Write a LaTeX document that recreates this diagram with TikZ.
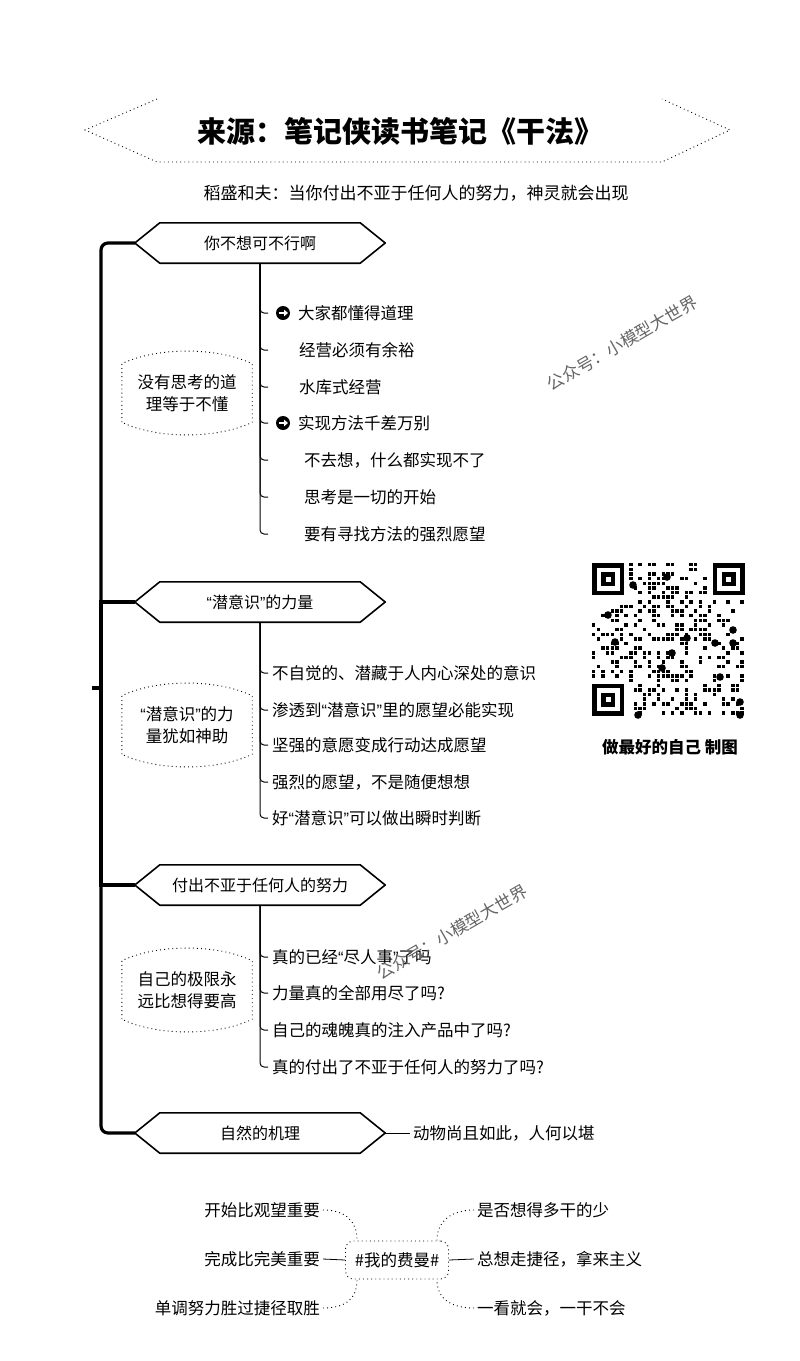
\documentclass[tikz,border=0pt]{standalone}
\usepackage{fontspec}
\setmainfont{Noto Sans CJK SC}
\newfontfamily\latin{Liberation Sans}
\usetikzlibrary{arrows.meta}

\newcommand{\fsz}[2]{\fontsize{#1}{#2}\selectfont}
\newcommand{\oq}{{\latin “}}
\newcommand{\cq}{{\latin ”}}

\tikzset{
  hexbox/.style={minimum width=250pt,minimum height=40pt,inner sep=0pt,font=\fsz{16}{20}},
  hexline/.style={line width=1.6pt,line join=round},
  sumbox/.style={minimum width=130pt,minimum height=58pt,inner sep=0pt,align=center,font=\fsz{16.5}{21.5}},
  sumline/.style={line width=0.9pt,dash pattern=on 0.9pt off 3.2pt},
  leaf/.style={anchor=west,inner xsep=0pt,inner ysep=2pt,font=\fsz{16.5}{20}},
  stem/.style={line width=3.2pt},
  twig/.style={line width=1pt,rounded corners=4pt},
  bul/.style={circle,fill=black,inner sep=0pt,minimum size=14pt},
  bularr/.style={white,line width=1.8pt,-{Triangle[length=4pt,width=6.5pt]}},
  wmark/.style={font=\fsz{17}{20},text=black!60,rotate=30},
}

\begin{document}
\begin{tikzpicture}[x=1pt,y=-1pt]
\useasboundingbox (0,0) rectangle (800,1361);
\fill[white] (0,0) rectangle (800,1361);

% title
\draw[sumline] (157,99) -- (85,130) -- (157,162) -- (662,162) -- (730,130) -- (662,99);
\node[font=\fsz{29}{34}\bfseries] (title) at (400,131) {来源：笔记侠读书笔记《干法》};
\node[font=\fsz{17}{20}] (sub) at (416,193) {稻盛和夫：当你付出不亚于任何人的努力，神灵就会出现};

% main branches
\node[hexbox] (h1) at (260,243) {你不想可不行啊};
\node[hexbox] (h2) at (260,602) {\oq 潜意识\cq 的力量};
\node[hexbox] (h3) at (260,885) {付出不亚于任何人的努力};
\node[hexbox] (h4) at (260,1133) {自然的机理};
\foreach \h in {h1,h2,h3,h4}
  \draw[hexline] (\h.west) -- ([xshift=25pt]\h.north west) -- ([xshift=-25pt]\h.north east) -- (\h.east)
    -- ([xshift=-25pt]\h.south east) -- ([xshift=25pt]\h.south west) -- cycle;

\coordinate (root) at (101,688);
\draw[stem,rounded corners=7pt] (h1.west) -| (root) |- (h4.west);
\draw[stem] (root) |- (h2.west);
\draw[stem] (root) |- (h3.west);
\draw[stem] (root) -- ++(-9,0);

% first branch
\foreach \n/\y/\ind/\t in {a1/313/30/大家都懂得道理,a2/350/31/经营必须有余裕,a3/387/31/水库式经营,
  a4/423/30/实现方法千差万别,a5/460/36/不去想，什么都实现不了,a6/497/36/思考是一切的开始,
  a7/534/36/要有寻找方法的强烈愿望}{
  \node[leaf] (\n) at (268,\y) {\hspace*{\ind pt}\t};
  \draw[twig] (h1.south) |- (\n.west);
}
\node[bul] (b1) at (283,313) {};
\node[bul] (b2) at (283,423) {};
\foreach \b in {b1,b2}
  \draw[bularr] ([xshift=-4.5pt]\b.center) -- ([xshift=5pt]\b.center);

% second branch
\foreach \n/\y/\t in {c1/673/不自觉的、潜藏于人内心深处的意识,c2/710/渗透到\oq 潜意识\cq 里的愿望必能实现,
  c3/745/坚强的意愿变成行动达成愿望,c4/782/强烈的愿望，不是随便想想,c5/818/好\oq 潜意识\cq 可以做出瞬时判断}{
  \node[leaf] (\n) at (268,\y) {\hspace*{4pt}\t};
  \draw[twig] (h2.south) |- (\n.west);
}

% third branch
\foreach \n/\y/\t in {d1/957/真的已经\oq 尽人事\cq 了吗,d2/993/力量真的全部用尽了吗?,
  d3/1030/自己的魂魄真的注入产品中了吗?,d4/1067/真的付出了不亚于任何人的努力了吗?}{
  \node[leaf] (\n) at (268,\y) {\hspace*{4pt}\t};
  \draw[twig] (h3.south) |- (\n.west);
}

% fourth branch
\node[leaf,inner xsep=3pt] (n4) at (410,1133) {动物尚且如此，人何以堪};
\draw[twig] (h4.east) -- (n4.west);

% summaries
\node[sumbox] (s1) at (187,393) {没有思考的道\\理等于不懂};
\node[sumbox] (s2) at (187,725) {\oq 潜意识\cq 的力\\量犹如神助};
\node[sumbox] (s3) at (187,990) {自己的极限永\\远比想得要高};
\foreach \s in {s1,s2,s3}
  \draw[sumline] (\s.south west) -- (\s.north west) .. controls +(35,-17) and +(-35,-17) .. (\s.north east)
    -- (\s.south east) .. controls +(-35,17) and +(35,17) .. (\s.south west);

% watermarks
\node[wmark] (w1) at (622,343) {公众号：小模型大世界};
\node[wmark] (w2) at (452,932) {公众号：小模型大世界};

% qr code
\pgfmathsetmacro{\qm}{153/33}
\begin{scope}[shift={(592,563)}]
\pgfmathsetseed{4}
\foreach \i in {0,...,32}
  \foreach \j in {0,...,32}{
    \pgfmathtruncatemacro{\fin}{(\i<8 && \j<8) || (\i>24 && \j<8) || (\i<8 && \j>24)}
    \pgfmathsetmacro{\rr}{rnd}
    \ifnum\fin=0 \ifdim\rr pt<0.36pt \fill (\i*\qm,\j*\qm) rectangle ++(0.75*\qm,0.75*\qm); \fi\fi
  }
\foreach \fx/\fy in {0/0,26/0,0/26}{
  \fill (\fx*\qm,\fy*\qm) rectangle ++(7*\qm,7*\qm);
  \fill[white] ({(\fx+1)*\qm},{(\fy+1)*\qm}) rectangle ++(5*\qm,5*\qm);
  \fill ({(\fx+2)*\qm},{(\fy+2)*\qm}) rectangle ++(3*\qm,3*\qm);
  \fill[white] ({(\fx+3)*\qm},{(\fy+3)*\qm}) rectangle ++(\qm,\qm);
}
\end{scope}
\foreach \p in {(667,577),(633,585),(608,615),(615,642),(733,630),(687,638),(715,643),
  (733,643),(672,653),(662,668),(720,677),(740,702),(638,715),(740,715)}
  \fill \p circle[radius=3.8pt];
\node[font=\fsz{16.5}{20}\bfseries] (cap) at (670,747) {做最好的自己 制图};

% feynman
\node[draw,sumline,rounded corners=8pt,minimum width=103pt,minimum height=38pt,font=\fsz{16.5}{20}] (fm) at (397,1260) {\#我的费曼\#};
\node[font=\fsz{16.5}{20},anchor=east,inner xsep=3pt] (l1) at (323,1210) {开始比观望重要};
\node[font=\fsz{16.5}{20},anchor=east,inner xsep=3pt] (l2) at (323,1259) {完成比完美重要};
\node[font=\fsz{16.5}{20},anchor=east,inner xsep=3pt] (l3) at (323,1308) {单调努力胜过捷径取胜};
\node[font=\fsz{16.5}{20},anchor=west,inner xsep=3pt] (r1) at (474,1210) {是否想得多干的少};
\node[font=\fsz{16.5}{20},anchor=west,inner xsep=3pt] (r2) at (474,1259) {总想走捷径，拿来主义};
\node[font=\fsz{16.5}{20},anchor=west,inner xsep=3pt] (r3) at (474,1308) {一看就会，一干不会};
\draw[sumline] (l1.east) .. controls +(22,0) and +(0,-20) .. ([xshift=12pt]fm.north west);
\draw[sumline] (l3.east) .. controls +(22,0) and +(0,20) .. ([xshift=12pt]fm.south west);
\draw[sumline] (r1.west) .. controls +(-22,0) and +(0,-20) .. ([xshift=-12pt]fm.north east);
\draw[sumline] (r3.west) .. controls +(-22,0) and +(0,20) .. ([xshift=-12pt]fm.south east);
\draw[line width=0.8pt] (l2.east) -- (fm.west);
\draw[line width=0.8pt] (fm.east) -- (r2.west);
\end{tikzpicture}
\end{document}
